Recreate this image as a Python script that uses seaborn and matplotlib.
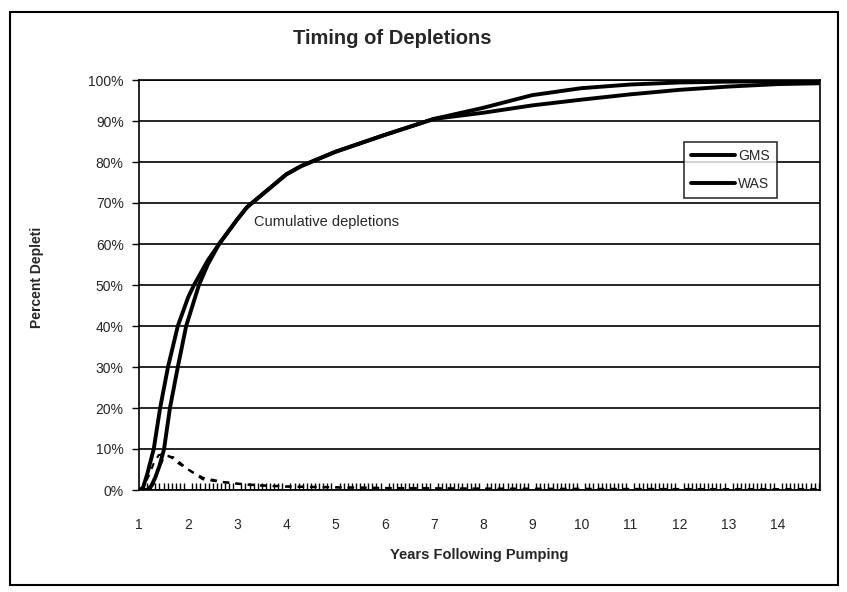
import matplotlib
matplotlib.use("Agg")
import pandas as pd
import matplotlib.pyplot as plt
import seaborn as sns
from matplotlib.ticker import MultipleLocator, FuncFormatter
from matplotlib.patches import Rectangle

sns.set_style("white")
plt.rcParams['font.family'] = ['Liberation Sans', 'DejaVu Sans']

# 누적 고갈률 (%) - 그림에서 읽은 값
gms_years = [1.0, 1.08, 1.17, 1.3, 1.43, 1.59, 1.79, 2.0, 2.12, 2.4, 2.63, 3.0, 3.2,
             3.6, 4.0, 4.3, 5.0, 6.0, 7.0, 8.0, 9.0, 10.0, 11.0, 12.0, 13.0, 14.0, 14.86]
gms_pct = [0, 0.5, 4, 10, 20, 30, 40, 47, 50, 56, 60, 66, 69,
           73, 77, 79, 82.5, 86.6, 90.5, 92.0, 93.8, 95.2, 96.5, 97.6, 98.4, 99.0, 99.2]

was_years = [1.0, 1.17, 1.25, 1.33, 1.42, 1.51, 1.63, 1.79, 1.96, 2.22, 2.4, 2.63, 3.0,
             3.2, 3.6, 4.0, 4.3, 5.0, 6.0, 7.0, 8.0, 9.0, 10.0, 11.0, 12.0, 13.0, 14.0, 14.86]
was_pct = [0, 0, 1, 3, 6, 10, 20, 30, 40, 50, 55, 60, 66,
           69, 73, 77, 79, 82.5, 86.6, 90.5, 93.2, 96.3, 98.0, 98.9, 99.4, 99.6, 99.7, 99.7]

# 월별 고갈률 (%) - 점선
gms_rate_years = [1.0, 1.1, 1.2, 1.3, 1.4, 1.5, 1.6, 1.7, 1.8, 2.0, 2.3, 2.7, 3.0,
                  3.4, 4.0, 5.0, 6.0, 7.0, 8.0, 10.0, 12.0, 14.0, 14.86]
gms_rate = [0, 1, 3.5, 6.5, 8.5, 8.8, 8.3, 7.6, 6.5, 5.0, 3.0, 2.0, 1.6,
            1.2, 0.9, 0.7, 0.5, 0.4, 0.35, 0.3, 0.25, 0.2, 0.2]
was_rate_years = [1.0, 1.2, 1.3, 1.4, 1.5, 1.6, 1.7, 1.8, 1.9, 2.0, 2.3, 2.7, 3.0,
                  3.4, 4.0, 5.0, 6.0, 7.0, 8.0, 10.0, 12.0, 14.0, 14.86]
was_rate = [0, 0, 1.5, 5, 7.8, 8.2, 8.0, 7.0, 6.0, 5.0, 2.6, 1.9, 1.5,
            1.1, 0.8, 0.6, 0.5, 0.4, 0.3, 0.25, 0.2, 0.15, 0.15]

year_ticks = list(range(1, 15))
pct_ticks = list(range(0, 101, 10))

cum_df = pd.concat([
    pd.DataFrame({'year': gms_years, 'pct': gms_pct, 'series': 'GMS'}),
    pd.DataFrame({'year': was_years, 'pct': was_pct, 'series': 'WAS'}),
])

fig = plt.figure(figsize=(8.47, 5.92), dpi=100)
ax = fig.add_axes([139 / 847, 1 - 490 / 592, 681 / 847, 410 / 592])

sns.lineplot(data=cum_df, x='year', y='pct', hue='series',
             palette={'GMS': 'black', 'WAS': 'black'}, linewidth=2.8, ax=ax)
sns.lineplot(x=gms_rate_years, y=gms_rate, color='black', linewidth=1.5,
             linestyle=(0, (3, 3)), ax=ax, legend=False)
sns.lineplot(x=was_rate_years, y=was_rate, color='black', linewidth=1.5,
             linestyle=(0, (3, 3)), ax=ax, legend=False)

ax.set_xlim(1, 14.86)
ax.set_ylim(0, 100)
ax.set_xticks(year_ticks)
ax.set_yticks(pct_ticks)
ax.yaxis.set_major_formatter(FuncFormatter(lambda v, p: f"{int(v)}%"))
ax.xaxis.set_minor_locator(MultipleLocator(1 / 12))
ax.tick_params(axis='x', which='major', length=0, pad=20, labelsize=10)
ax.tick_params(axis='x', which='minor', direction='in', length=5, width=1, color='black', bottom=True)
ax.tick_params(axis='y', which='major', direction='out', length=5, width=1, color='black',
               left=True, pad=6, labelsize=10)

ax.grid(axis='y', color='black', linewidth=1.2)
ax.grid(axis='x', visible=False)
for s in ax.spines.values():
    s.set_color('black')
    s.set_linewidth(1.2)

ax.set_xlabel("Years Following Pumping", fontsize=10.5, fontweight='bold', labelpad=12)
ax.set_ylabel("")
fig.text(37 / 847, 1 - 277 / 592, "Percent Depleti", rotation=90, fontsize=10,
         fontweight='bold', ha='center', va='center')
fig.text(392 / 847, 1 - 38 / 592, "Timing of Depletions", fontsize=14.5,
         fontweight='bold', ha='center', va='center')
ax.text(3.34, 65.4, "Cumulative depletions", fontsize=10.5, va='center', ha='left')

leg = ax.legend(loc='upper left', bbox_to_anchor=(0.79, 0.865), title=None,
                fontsize=10, handlelength=3.2, labelspacing=1.0, borderpad=0.5,
                frameon=True, fancybox=False, handletextpad=0.2)
leg.get_frame().set_edgecolor('black')
leg.get_frame().set_linewidth(1.2)

fig.add_artist(Rectangle((10 / 847, 1 - 585 / 592), 828 / 847, 573 / 592,
                         transform=fig.transFigure, fill=False, edgecolor='black', linewidth=1.5))

fig.savefig("out.png", dpi=100)
